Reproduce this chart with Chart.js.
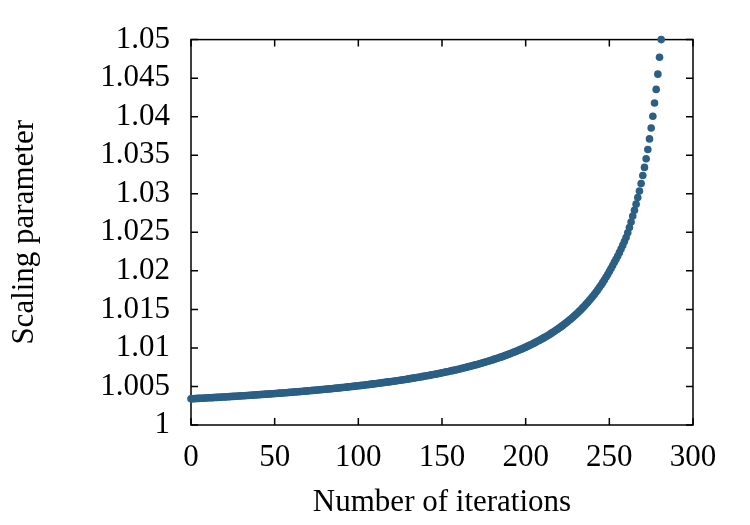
<!DOCTYPE html>
<html>
<head>
<meta charset="utf-8">
<script src="https://cdn.jsdelivr.net/npm/chart.js@4"></script>
<style>
html, body { margin: 0; padding: 0; background: #fff; }
</style>
</head>
<body>
<canvas id="scalingChart" width="750" height="525"></canvas>
<script>
// scaling parameter per iteration (iterations 0..281)
var scaling = [
    1.00340, 1.00341, 1.00342, 1.00343, 1.00345, 1.00346, 1.00347, 1.00348, 1.00349, 1.00350,
    1.00352, 1.00353, 1.00354, 1.00355, 1.00357, 1.00358, 1.00359, 1.00360, 1.00362, 1.00363,
    1.00364, 1.00365, 1.00367, 1.00368, 1.00369, 1.00371, 1.00372, 1.00373, 1.00375, 1.00376,
    1.00378, 1.00379, 1.00380, 1.00382, 1.00383, 1.00385, 1.00386, 1.00388, 1.00389, 1.00391,
    1.00392, 1.00394, 1.00395, 1.00397, 1.00398, 1.00400, 1.00401, 1.00403, 1.00404, 1.00406,
    1.00408, 1.00409, 1.00411, 1.00413, 1.00414, 1.00416, 1.00418, 1.00419, 1.00421, 1.00423,
    1.00424, 1.00426, 1.00428, 1.00430, 1.00432, 1.00433, 1.00435, 1.00437, 1.00439, 1.00441,
    1.00443, 1.00445, 1.00447, 1.00449, 1.00451, 1.00453, 1.00455, 1.00457, 1.00459, 1.00461,
    1.00463, 1.00465, 1.00467, 1.00469, 1.00471, 1.00473, 1.00476, 1.00478, 1.00480, 1.00482,
    1.00485, 1.00487, 1.00489, 1.00492, 1.00494, 1.00496, 1.00499, 1.00501, 1.00504, 1.00506,
    1.00509, 1.00511, 1.00514, 1.00516, 1.00519, 1.00522, 1.00524, 1.00527, 1.00530, 1.00533,
    1.00535, 1.00538, 1.00541, 1.00544, 1.00547, 1.00550, 1.00553, 1.00556, 1.00559, 1.00562,
    1.00565, 1.00568, 1.00571, 1.00574, 1.00578, 1.00581, 1.00584, 1.00587, 1.00591, 1.00594,
    1.00598, 1.00601, 1.00605, 1.00608, 1.00612, 1.00616, 1.00619, 1.00623, 1.00627, 1.00631,
    1.00635, 1.00639, 1.00643, 1.00647, 1.00651, 1.00655, 1.00659, 1.00663, 1.00668, 1.00672,
    1.00677, 1.00681, 1.00686, 1.00690, 1.00695, 1.00700, 1.00705, 1.00709, 1.00714, 1.00719,
    1.00724, 1.00730, 1.00735, 1.00740, 1.00746, 1.00751, 1.00757, 1.00762, 1.00768, 1.00774,
    1.00780, 1.00785, 1.00792, 1.00798, 1.00804, 1.00810, 1.00817, 1.00823, 1.00830, 1.00837,
    1.00844, 1.00851, 1.00858, 1.00865, 1.00872, 1.00880, 1.00887, 1.00895, 1.00903, 1.00911,
    1.00919, 1.00928, 1.00936, 1.00945, 1.00954, 1.00962, 1.00972, 1.00981, 1.00990, 1.01000,
    1.01010, 1.01020, 1.01030, 1.01041, 1.01051, 1.01062, 1.01073, 1.01085, 1.01096, 1.01108,
    1.01120, 1.01133, 1.01145, 1.01158, 1.01171, 1.01185, 1.01199, 1.01213, 1.01228, 1.01242,
    1.01258, 1.01273, 1.01289, 1.01306, 1.01323, 1.01340, 1.01358, 1.01376, 1.01395, 1.01414,
    1.01434, 1.01454, 1.01475, 1.01496, 1.01519, 1.01541, 1.01565, 1.01589, 1.01614, 1.01640,
    1.01667, 1.01694, 1.01723, 1.01752, 1.01783, 1.01814, 1.01847, 1.01881, 1.01916, 1.01952,
    1.01992, 1.02030, 1.02070, 1.02110, 1.02150, 1.02192, 1.02236, 1.02282, 1.02330, 1.02380,
    1.02433, 1.02494, 1.02562, 1.02634, 1.02710, 1.02785, 1.02865, 1.02950, 1.03036, 1.03133,
    1.03237, 1.03342, 1.03455, 1.03575, 1.03712, 1.03854, 1.04005, 1.04177, 1.04354, 1.04552,
    1.04771, 1.05000
];

var xTicks = [0, 50, 100, 150, 200, 250, 300];
var yTicks = [1, 1.005, 1.01, 1.015, 1.02, 1.025, 1.03, 1.035, 1.04, 1.045, 1.05];

var xTitle = 'Number of iterations';
var yTitle = 'Scaling parameter';

var dotColor = '#2b5f84';
var labelFont = { family: 'Liberation Serif', size: 31 };

var points = scaling.map(function(v, i) {
    return { x: i, y: v };
});

// box round the plot, with short inward ticks on all four sides
var framePlugin = {
    id: 'frame',
    beforeDatasetsDraw: function(chart) {
        var ctx = chart.ctx;
        var a = chart.chartArea;
        var xs = chart.scales.x;
        var ys = chart.scales.y;
        var len = 7;
        ctx.save();
        ctx.strokeStyle = '#000';
        ctx.lineWidth = 1.5;
        ctx.strokeRect(a.left, a.top, a.right - a.left, a.bottom - a.top);
        ctx.beginPath();
        xs.ticks.forEach(function(t) {
            var px = xs.getPixelForValue(t.value);
            ctx.moveTo(px, a.bottom);
            ctx.lineTo(px, a.bottom - len);
            ctx.moveTo(px, a.top);
            ctx.lineTo(px, a.top + len);
        });
        ys.ticks.forEach(function(t) {
            var py = ys.getPixelForValue(t.value);
            ctx.moveTo(a.left, py);
            ctx.lineTo(a.left + len, py);
            ctx.moveTo(a.right, py);
            ctx.lineTo(a.right - len, py);
        });
        ctx.stroke();
        ctx.restore();
    }
};

var ctx = document.getElementById('scalingChart').getContext('2d');

var scalingChart = new Chart(ctx, {
    type: 'scatter',
    data: {
        datasets: [{
            data: points,
            backgroundColor: dotColor,
            borderWidth: 0,
            pointRadius: 3.8,
            pointHoverRadius: 3.8,
            clip: false
        }]
    },
    options: {
        responsive: false,
        animation: false,
        layout: {
            padding: { left: 0, right: 57, top: 38, bottom: 0 }
        },
        plugins: {
            legend: { display: false },
            tooltip: { enabled: false }
        },
        scales: {
            x: {
                type: 'linear',
                min: 0,
                max: 300,
                grid: { display: false, drawTicks: false },
                border: { display: false },
                afterBuildTicks: function(scale) {
                    scale.ticks = xTicks.map(function(v) { return { value: v }; });
                },
                afterFit: function(scale) {
                    scale.height = 100;
                },
                ticks: {
                    autoSkip: false,
                    maxRotation: 0,
                    padding: 14,
                    color: '#000',
                    font: labelFont
                },
                title: {
                    display: true,
                    text: xTitle,
                    color: '#000',
                    font: labelFont,
                    padding: { top: 4, bottom: 4 }
                }
            },
            y: {
                type: 'linear',
                min: 1,
                max: 1.05,
                grid: { display: false, drawTicks: false },
                border: { display: false },
                afterBuildTicks: function(scale) {
                    scale.ticks = yTicks.map(function(v) { return { value: v }; });
                },
                afterFit: function(scale) {
                    scale.width = 191;
                },
                ticks: {
                    autoSkip: false,
                    padding: 21,
                    color: '#000',
                    font: labelFont,
                    callback: function(value) {
                        return String(Math.round(value * 1000) / 1000);
                    }
                },
                title: {
                    display: true,
                    text: yTitle,
                    color: '#000',
                    font: labelFont,
                    padding: { top: 6, bottom: 4 }
                }
            }
        }
    },
    plugins: [framePlugin]
});
</script>
</body>
</html>
